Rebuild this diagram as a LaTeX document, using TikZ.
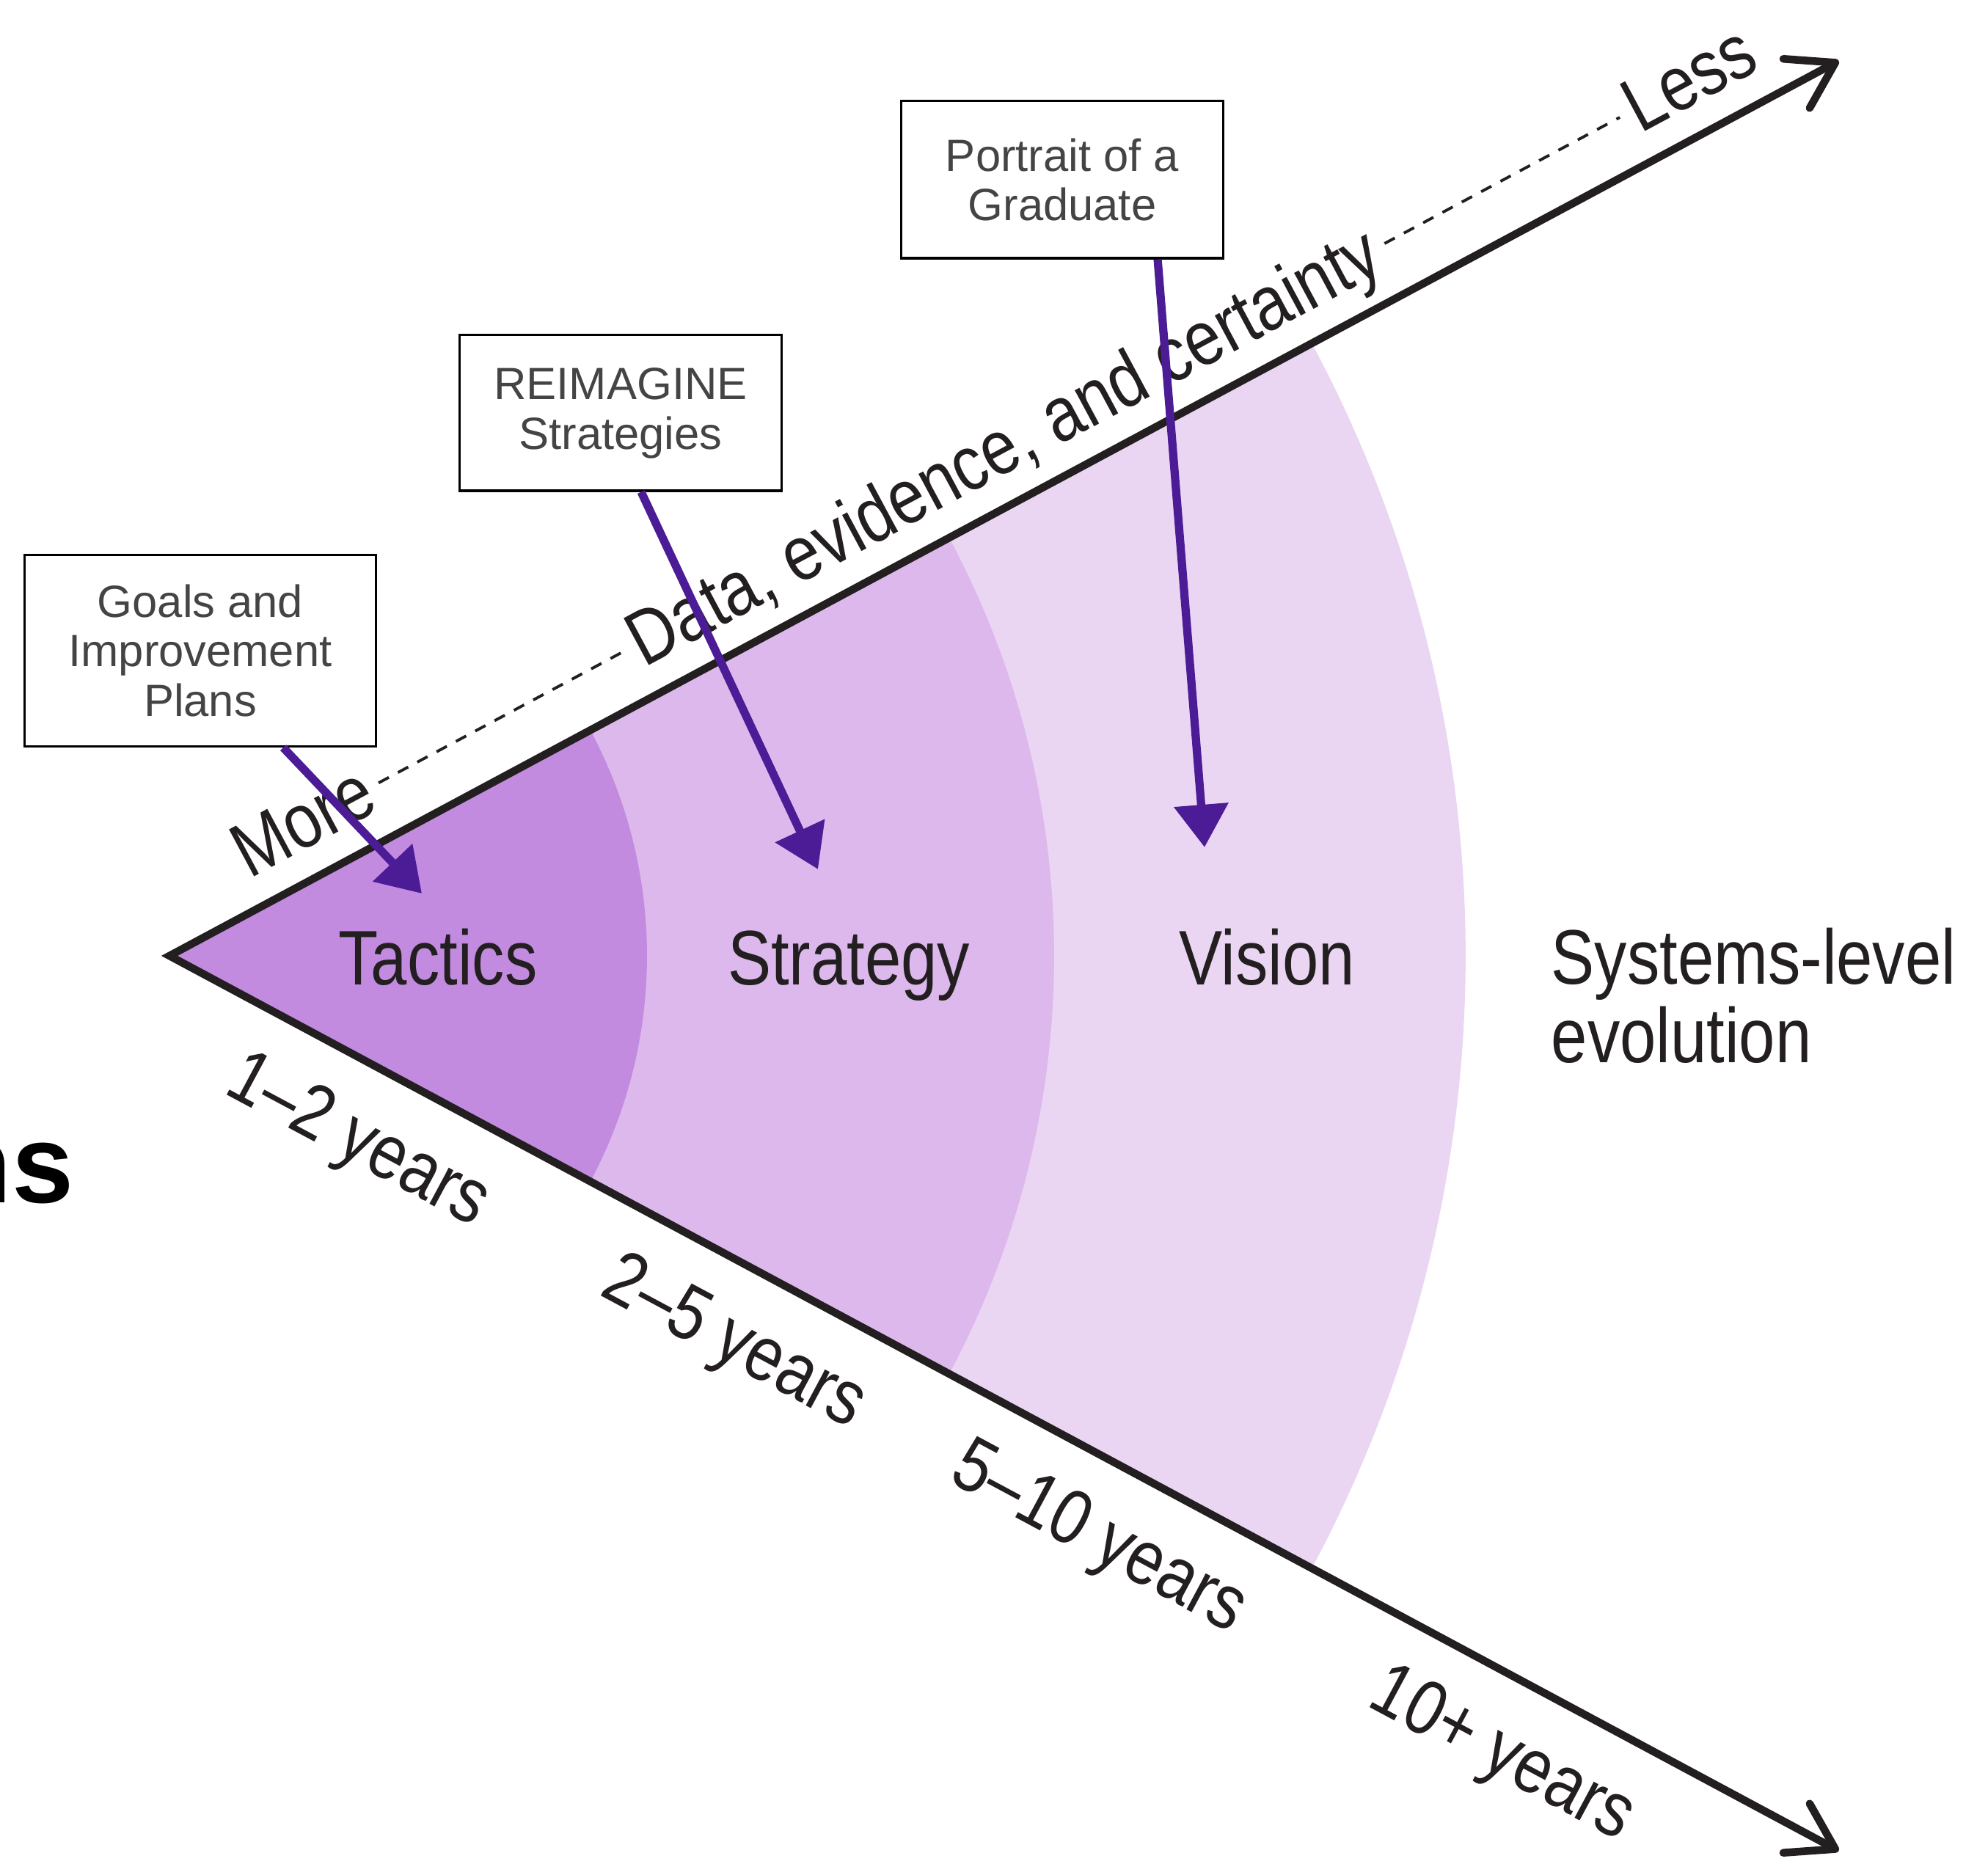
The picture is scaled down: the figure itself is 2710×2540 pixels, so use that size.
\documentclass[tikz,border=0pt]{standalone}
\usepackage{fontspec}
\setmainfont{Liberation Sans}
\newfontfamily\condfont[FakeStretch=0.84]{Liberation Sans}
\usetikzlibrary{arrows.meta}
\definecolor{inkblack}{HTML}{231F20}
\definecolor{boxgray}{HTML}{444444}
\definecolor{pencilpurple}{HTML}{4B1C96}
\definecolor{tacticsfill}{HTML}{C28BDF}
\definecolor{strategyfill}{HTML}{DCB8EC}
\definecolor{visionfill}{HTML}{EAD6F3}

\begin{document}
\begin{tikzpicture}[
    x = 0.01cm, y = 0.01cm,
    band/.style = {font = \condfont\fontsize{30pt}{30.4pt}\selectfont, text = inkblack, inner sep = 0pt},
    axislabel/.style = {band, anchor = base, text height = 18.8pt, text depth = 0pt, inner xsep = 4pt},
    yearlabel/.style = {band, anchor = base},
    plan/.style = {draw = black, line width = 0.9pt, align = center, text = boxgray,
                   font = \fontsize{17.5pt}{19.3pt}\selectfont},
    pencil/.style = {pencilpurple, line width = 3.2pt, -{Triangle[length = 0.58cm, width = 0.72cm]}},
    dashline/.style = {inkblack, line width = 1.1pt, dash pattern = on 4.5pt off 4pt}]

\useasboundingbox (0,0) rectangle (2710,2540);

\coordinate (apex) at (231,1237);
\path (apex) ++(28.2:2582) coordinate (tipUp)
      (apex) ++(-28.2:2582) coordinate (tipLow);

% horizon bands
\foreach \r/\c in {1767/visionfill, 1206/strategyfill, 651/tacticsfill}
  \fill[\c] (apex) -- ++(-28.2:\r) arc[start angle = -28.2, end angle = 28.2, radius = \r] -- cycle;

\draw[inkblack, line width = 3pt, line join = miter,
      {Straight Barb[length = 0.6cm, width = 0.76cm, round]}-{Straight Barb[length = 0.6cm, width = 0.76cm, round]}]
      (tipLow) -- (apex) -- (tipUp);

\node[band, anchor = base] (tactics) at (597,1197) {Tactics};
\node[band, anchor = base] (strategy) at (1157,1197) {Strategy};
\node[band, anchor = base] (vision) at (1727,1197) {Vision};
\node[band, anchor = south west, align = left] (systems) at (2114,1090) {Systems-level\\evolution};

% upper axis
\begin{scope}[shift = {(apex)}, rotate = 28.2]
  \node[axislabel, rotate = 28.2] (more) at (247,40) {More};
  \node[axislabel, rotate = 28.2] (data) at (1330,40) {Data, evidence, and certainty};
  \node[axislabel, rotate = 28.2] (less) at (2391,40) {Less};
  \draw[dashline] (more) -- (data)
                  (data) -- (less);
\end{scope}

% lower axis
\begin{scope}[shift = {(apex)}, rotate = -28.2]
  \foreach \d/\t/\n in {346/1–2 years/one, 928/2–5 years/two, 1492/5–10 years/five, 2116/10+ years/ten}
    \node[yearlabel, rotate = -28.2] (\n) at (\d,-130) {\t};
\end{scope}

\node[font = \bfseries\fontsize{43pt}{44pt}\selectfont, anchor = base east, inner sep = 0pt] (cut) at (101,900) {ns};

\node[plan, minimum width = 4.78cm, minimum height = 2.61cm] (goals) at (273,1653) {Goals and\\Improvement\\Plans};
\node[plan, minimum width = 4.38cm, minimum height = 2.12cm] (reimagine) at (846,1977) {REIMAGINE\\Strategies};
\node[plan, minimum width = 4.39cm, minimum height = 2.14cm] (portrait) at (1448,2295) {Portrait of a\\Graduate};

\coordinate (tipTactics) at (575,1322);
\coordinate (tipStrategy) at (1115,1355);
\coordinate (tipVision) at (1642,1385);
\draw[pencil] ([xshift = 1.13cm]goals.south) -- (tipTactics);
\draw[pencil] ([xshift = 0.28cm]reimagine.south) -- (tipStrategy);
\draw[pencil] ([xshift = 1.30cm]portrait.south) -- (tipVision);
\end{tikzpicture}
\end{document}
